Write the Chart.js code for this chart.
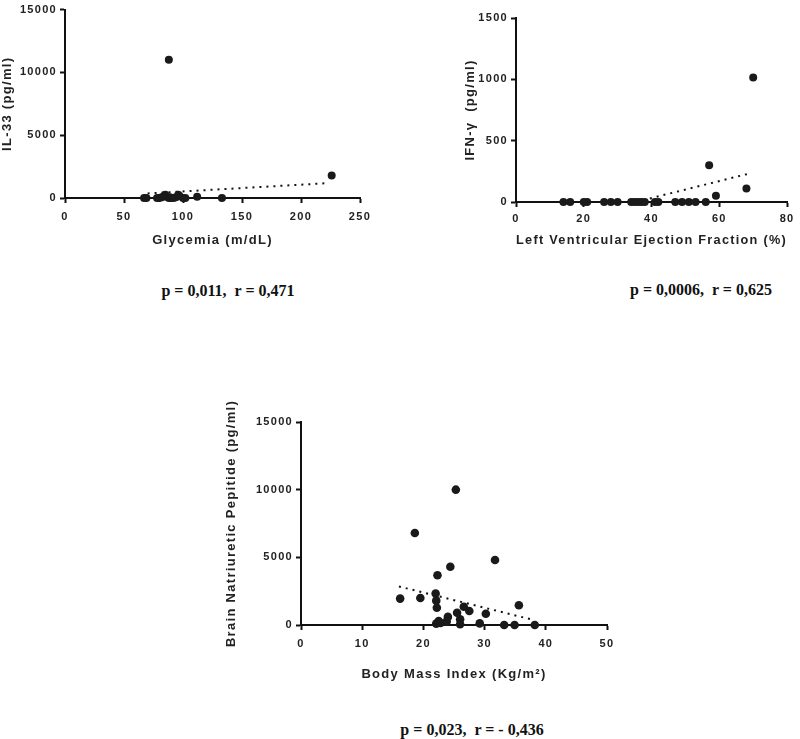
<!DOCTYPE html>
<html lang="en">

<head>
    <meta charset="UTF-8">
    <title>Correlations</title>
    <script src="https://cdn.jsdelivr.net/npm/chart.js@4.4.1/dist/chart.umd.min.js"></script>
</head>

<style>
    body {
        margin: 0;
        width: 800px;
        height: 739px;
        background: #fff;
        position: relative;
        overflow: hidden;
    }

    canvas {
        position: absolute;
    }

    .stat {
        position: absolute;
        transform: translateX(-50%);
        font-family: 'Liberation Serif', 'Times New Roman', serif;
        font-weight: bold;
        font-size: 16px;
        line-height: 16px;
        white-space: pre;
        color: #111;
    }
</style>

<body>
    <canvas id="c1" width="380" height="255" style="left:0;top:0"></canvas>
    <canvas id="c2" width="400" height="255" style="left:400px;top:0"></canvas>
    <canvas id="c3" width="440" height="290" style="left:200px;top:400px"></canvas>

    <div class="stat" style="left:228px;top:283px">p = 0,011,  r = 0,471</div>
    <div class="stat" style="left:701px;top:282px">p = 0,0006,  r = 0,625</div>
    <div class="stat" style="left:472px;top:722px">p = 0,023,  r = - 0,436</div>

    <script>
        // Glycemia x IL-33
        const glycemia = [67, 69, 78, 80, 82, 84, 85, 86, 88, 89, 90, 92, 94, 96, 97, 100, 102, 112, 133, 88, 226];
        const il33 = [0, 0, 0, 0, 50, 150, 250, 100, 0, 50, 0, 0, 50, 250, 150, 0, 0, 100, 0, 11000, 1800];
        const trend1X = [70, 222];
        const trend1Y = [360, 1180];

        // LVEF x IFN-gamma
        const lvef = [14, 16, 20, 21, 26, 28, 30, 34, 35, 36, 37, 38, 41, 42, 47, 49, 51, 53, 56, 57, 59, 68, 70];
        const ifn = [0, 0, 0, 0, 0, 0, 0, 0, 0, 0, 0, 0, 0, 0, 0, 0, 0, 0, 0, 300, 50, 110, 1015];
        const trend2X = [37.5, 69];
        const trend2Y = [15, 233];

        // BMI x BNP
        const bmi = [16.2, 18.6, 19.5, 22.0, 22.1, 22.2, 22.3, 22.1, 22.5, 22.8, 23.8, 24.0, 24.4, 25.3, 25.5, 26.0, 26.0, 26.6, 27.5, 29.2, 30.2, 31.7, 33.2, 34.9, 35.6, 38.2];
        const bnp = [1950, 6800, 2000, 2330, 1800, 1280, 3680, 100, 300, 150, 250, 600, 4300, 10000, 900, 430, 60, 1350, 1030, 120, 830, 4800, 0, 0, 1460, 0];
        const trend3X = [16, 38.2];
        const trend3Y = [2850, 350];

        // GraphPad-ish letter spacing on every text
        const espacamento = {
            id: 'espacamento',
            beforeInit(c) { c.ctx.letterSpacing = '1.3px'; },
            beforeUpdate(c) { c.ctx.letterSpacing = '1.3px'; },
            beforeDraw(c) { c.ctx.letterSpacing = '1.3px'; }
        };

        const fonteTick = { family: "'Liberation Sans', Arial, sans-serif", weight: 'bold', size: 11 };
        const fonteTitulo = { family: "'Liberation Sans', Arial, sans-serif", weight: 'bold', size: 13 };

        function pontos(xs, ys) {
            return xs.map((x, i) => ({ x: x, y: ys[i] }));
        }

        function grafico(id, g) {
            const ctx = document.getElementById(id).getContext('2d');
            return new Chart(ctx, {
                type: 'scatter',
                data: {
                    datasets: [{
                        data: pontos(g.x, g.y),
                        backgroundColor: '#1a1a1a',
                        borderWidth: 0,
                        pointRadius: g.raio,
                        clip: false
                    }, {
                        type: 'line',
                        data: pontos(g.tx, g.ty),
                        borderColor: '#111',
                        borderWidth: 2,
                        borderDash: [2, 5],
                        pointRadius: 0,
                        fill: false,
                        clip: false
                    }]
                },
                options: {
                    responsive: false,
                    animation: false,
                    layout: {
                        autoPadding: false,
                        padding: { top: g.top, right: g.right, left: 0, bottom: 0 }
                    },
                    plugins: {
                        legend: { display: false },
                        tooltip: { enabled: false }
                    },
                    scales: {
                        x: {
                            type: 'linear',
                            min: g.xmin, max: g.xmax,
                            afterFit: (s) => { s.height = g.xh; },
                            border: { display: true, color: '#111', width: 2 },
                            grid: { drawOnChartArea: false, tickLength: 5, tickWidth: 2, tickColor: '#111' },
                            ticks: { stepSize: g.xstep, padding: g.xpad, color: '#222', font: fonteTick, callback: (v) => String(v) },
                            title: { display: true, text: g.xt, color: '#222', font: fonteTitulo, padding: { top: 0, bottom: g.xtp } }
                        },
                        y: {
                            min: 0, max: g.ymax,
                            afterFit: (s) => { s.width = g.yw; },
                            border: { display: true, color: '#111', width: 2 },
                            grid: { drawOnChartArea: false, tickLength: 5, tickWidth: 2, tickColor: '#111' },
                            ticks: { stepSize: g.ystep, padding: 3, color: '#222', font: fonteTick, callback: (v) => String(v) },
                            title: { display: true, text: g.yt, color: '#222', font: fonteTitulo, padding: { top: g.ytp, bottom: 0 } }
                        }
                    }
                },
                plugins: [espacamento]
            });
        }

        grafico('c1', {
            x: glycemia, y: il33, tx: trend1X, ty: trend1Y, raio: 4,
            xmin: 0, xmax: 250, xstep: 50, ymax: 15000, ystep: 5000,
            top: 3, right: 20, yw: 65, xh: 57, xpad: 7, xtp: 7.2, ytp: 0,
            xt: 'Glycemia (m/dL)', yt: 'IL-33 (pg/ml)'
        });

        grafico('c2', {
            x: lvef, y: ifn, tx: trend2X, ty: trend2Y, raio: 4,
            xmin: 0, xmax: 80, xstep: 20, ymax: 1500, ystep: 500,
            top: 18, right: 5, yw: 116, xh: 53, xpad: 5.5, xtp: 6.7, ytp: 62.2,
            xt: 'Left Ventricular Ejection Fraction (%)', yt: 'IFN-γ  (pg/ml)'
        });

        grafico('c3', {
            x: bmi, y: bnp, tx: trend3X, ty: trend3Y, raio: 4.3,
            xmin: 0, xmax: 50, xstep: 10, ymax: 15000, ystep: 5000,
            top: 22, right: 33, yw: 101, xh: 65, xpad: 7, xtp: 7.7, ytp: 23.9,
            xt: 'Body Mass Index (Kg/m²)', yt: 'Brain Natriuretic Pepitide (pg/ml)'
        });
    </script>
</body>

</html>
